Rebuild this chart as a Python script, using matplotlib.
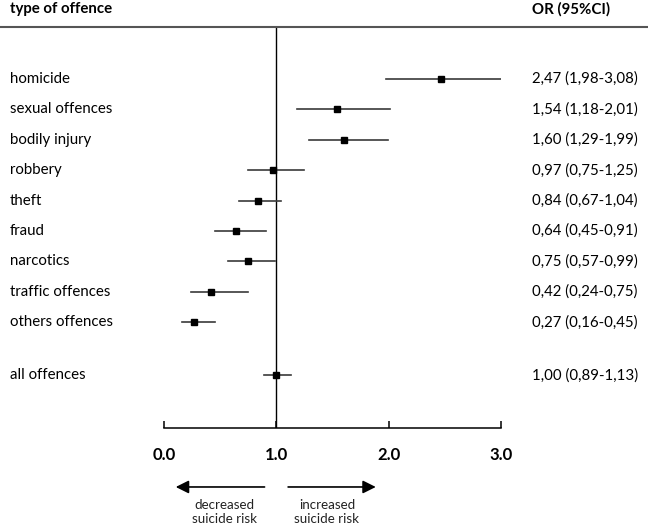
# Forest plot: odds ratio of suicide by type of offence

import matplotlib.pyplot as plt
import matplotlib.transforms as mtransforms
from matplotlib.lines import Line2D

plt.rcParams['font.family'] = ['Lato', 'DejaVu Sans']

offences = ["homicide", "sexual offences", "bodily injury", "robbery", "theft",
            "fraud", "narcotics", "traffic offences", "others offences", "all offences"]
odds = [2.47, 1.54, 1.60, 0.97, 0.84, 0.64, 0.75, 0.42, 0.27, 1.00]
ci_low = [1.98, 1.18, 1.29, 0.75, 0.67, 0.45, 0.57, 0.24, 0.16, 0.89]
ci_high = [3.08, 2.01, 1.99, 1.25, 1.04, 0.91, 0.99, 0.75, 0.45, 1.13]
ticks = [0.0, 1.0, 2.0, 3.0]

# row positions, the total row sits a bit further down
rows = list(range(9)) + [9.75]

W, H = 648, 527
fig = plt.figure(figsize=(W / 100, H / 100), dpi=100)
ax = fig.add_axes([164 / W, (H - 428) / H, 337 / W, (428 - 27) / H])
ax.set_xlim(0, 3)
ax.set_ylim(11.48, -1.71)

for side in ["left", "top", "right"]:
    ax.spines[side].set_visible(False)
ax.spines["bottom"].set_linewidth(1.1)
ax.set_yticks([])
ax.set_xticks(ticks)
ax.set_xticklabels(["%.1f" % t for t in ticks], fontweight="bold", fontsize=12)
ax.tick_params(axis="x", direction="in", length=5, width=1.1, pad=14)

ax.axvline(1, color="black", linewidth=1)

for y, o, lo, hi in zip(rows, odds, ci_low, ci_high):
    ax.plot([lo, hi], [y, y], color="#3a3a3a", linewidth=1.2)
    ax.plot(o, y, marker="s", color="black", markersize=4.5)

trans = mtransforms.blended_transform_factory(fig.transFigure, ax.transData)
for y, name, o, lo, hi in zip(rows, offences, odds, ci_low, ci_high):
    ax.text(10 / W, y, name, transform=trans, va="center", ha="left", fontsize=10.8)
    txt = "%.2f (%.2f-%.2f)" % (o, lo, hi)
    ax.text(532 / W, y, txt.replace(".", ","), transform=trans,
            va="center", ha="left", fontsize=10.8)

# header
fig.text(10 / W, 1 - 9 / H, "type of offence", fontweight="bold", fontsize=10.8, va="center")
fig.text(532 / W, 1 - 9 / H, "OR (95%CI)", fontweight="bold", fontsize=10.8, va="center")
fig.add_artist(Line2D([0, 1], [1 - 27 / H, 1 - 27 / H], color="#555555", linewidth=1.5))

# direction arrows
ax.annotate("", xy=(0.08, 13.42), xytext=(0.92, 13.42), annotation_clip=False,
            arrowprops=dict(arrowstyle="-|>,head_length=0.6,head_width=0.3",
                            color="black", lw=1.2, mutation_scale=13))
ax.annotate("", xy=(1.91, 13.42), xytext=(1.08, 13.42), annotation_clip=False,
            arrowprops=dict(arrowstyle="-|>,head_length=0.6,head_width=0.3",
                            color="black", lw=1.2, mutation_scale=13))
ax.text(0.54, 14.24, "decreased\nsuicide risk", ha="center", va="center",
        fontsize=9.6, linespacing=1.15, color="#222222", clip_on=False)
ax.text(1.45, 14.24, "increased\nsuicide risk", ha="center", va="center",
        fontsize=9.6, linespacing=1.15, color="#222222", clip_on=False)

plt.savefig("out.png", dpi=100)
